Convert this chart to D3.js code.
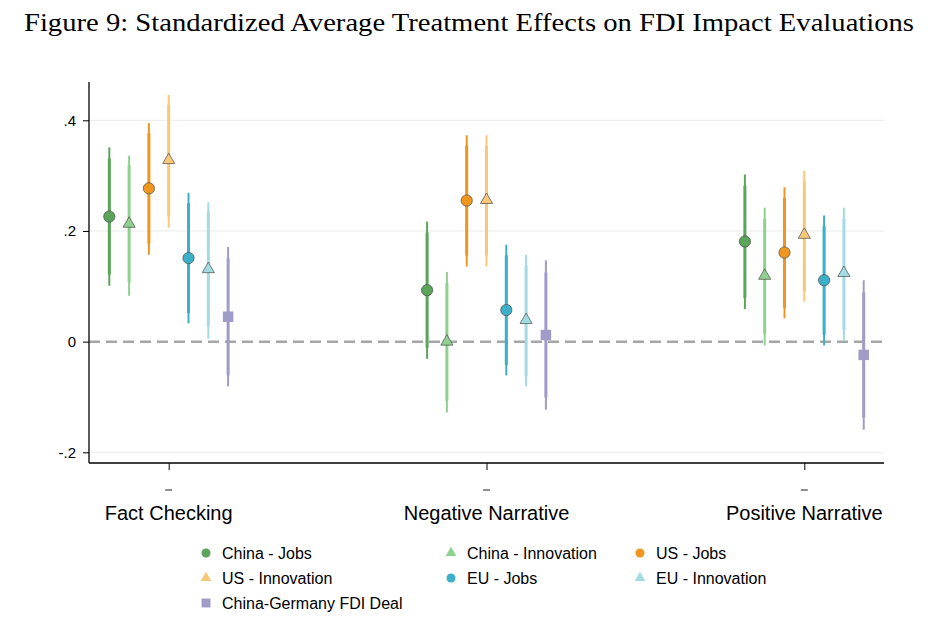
<!DOCTYPE html>
<html>
<head>
<meta charset="utf-8">
<script src="https://cdn.jsdelivr.net/npm/d3@7"></script>
<style>
  body { margin: 0; background: #fff; }
  svg { display: block; }
  text { font-family: "Liberation Sans", Arial, sans-serif; fill: #000; }
</style>
</head>
<body>
<div id="chart"></div>
<script>
const categories = ["Fact Checking", "Negative Narrative", "Positive Narrative"];
const seriesNames = ["China - Jobs", "China - Innovation", "US - Jobs", "US - Innovation",
  "EU - Jobs", "EU - Innovation", "China-Germany FDI Deal"];
const seriesColors = ["#5aa55a", "#8fd18f", "#f0961e", "#f8c878", "#3cb0c8", "#a3dbe3", "#a09cc8"];
const seriesShapes = ["circle", "triangle", "circle", "triangle", "circle", "triangle", "square"];

// estimates per category, one row per category
const estimates = [
  [0.226, 0.213, 0.277, 0.328, 0.151, 0.131, 0.045],
  [0.093, 0.000, 0.255, 0.256, 0.057, 0.039, 0.012],
  [0.181, 0.119, 0.161, 0.193, 0.111, 0.124, -0.024]
];
// 95% intervals
const ci95Low = [
  [0.101, 0.083, 0.157, 0.206, 0.033, 0.005, -0.081],
  [-0.031, -0.128, 0.136, 0.136, -0.061, -0.081, -0.123],
  [0.059, -0.007, 0.042, 0.072, -0.007, 0.002, -0.159]
];
const ci95High = [
  [0.351, 0.336, 0.395, 0.446, 0.269, 0.252, 0.171],
  [0.217, 0.126, 0.373, 0.373, 0.175, 0.157, 0.147],
  [0.302, 0.242, 0.279, 0.309, 0.228, 0.242, 0.111]
];
// 90% intervals
const ci90Low = [
  [0.121, 0.107, 0.177, 0.226, 0.052, 0.027, -0.061],
  [-0.011, -0.107, 0.156, 0.156, -0.042, -0.062, -0.101],
  [0.079, 0.014, 0.061, 0.091, 0.012, 0.021, -0.137]
];
const ci90High = [
  [0.331, 0.319, 0.377, 0.428, 0.250, 0.235, 0.151],
  [0.197, 0.106, 0.354, 0.354, 0.156, 0.138, 0.125],
  [0.282, 0.222, 0.260, 0.290, 0.209, 0.222, 0.089]
];
const yTicks = [-0.2, 0, 0.2, 0.4];
const yTickLabels = ["-.2", "0", ".2", ".4"];

const width = 944, height = 636;
const margin = { left: 89, right: 60, top: 82, bottom: 173 };
const plotRight = width - margin.right;
const plotBottom = height - margin.bottom;

const svg = d3.select("#chart").append("svg")
  .attr("width", width)
  .attr("height", height);

// title
svg.append("text")
  .attr("x", 24)
  .attr("y", 31)
  .attr("textLength", 890)
  .attr("lengthAdjust", "spacingAndGlyphs")
  .style("font-family", "'Liberation Serif', 'DejaVu Serif', serif")
  .style("font-size", "25px")
  .text("Figure 9: Standardized Average Treatment Effects on FDI Impact Evaluations");

const y = d3.scaleLinear()
  .domain([-0.2, 0.4])
  .range([452.3, 120.3]);

const x = d3.scalePoint()
  .domain(categories)
  .range([168.7, 804.3]);

const offset = d3.scalePoint()
  .domain(d3.range(seriesNames.length))
  .range([-59.4, 59.4]);

// gridlines
svg.append("g")
  .selectAll("line")
  .data(yTicks.filter((d) => d !== 0))
  .join("line")
  .attr("x1", margin.left)
  .attr("x2", plotRight)
  .attr("y1", (d) => y(d))
  .attr("y2", (d) => y(d))
  .attr("stroke", "#eaeaea")
  .attr("stroke-width", 1);

// zero reference line
svg.append("line")
  .attr("x1", margin.left)
  .attr("x2", plotRight)
  .attr("y1", y(0))
  .attr("y2", y(0))
  .attr("stroke", "#a6a6a6")
  .attr("stroke-width", 2.5)
  .attr("stroke-dasharray", "11,6");

// y axis
const yAxis = svg.append("g")
  .attr("transform", `translate(${margin.left},0)`)
  .call(d3.axisLeft(y).tickValues(yTicks).tickFormat((d, i) => yTickLabels[i]).tickSize(6).tickPadding(7));
yAxis.select(".domain").attr("d", `M0,${margin.top}V${plotBottom}`).attr("stroke", "#000").attr("stroke-width", 1.3);
yAxis.selectAll(".tick line").attr("stroke", "#000");
yAxis.selectAll(".tick text").style("font-size", "15px").style("font-family", "'Liberation Sans', Arial, sans-serif");

// x axis
const xAxis = svg.append("g")
  .attr("transform", `translate(0,${plotBottom})`)
  .call(d3.axisBottom(x).tickSize(7).tickFormat(""));
xAxis.select(".domain").attr("d", `M${margin.left},0H${plotRight}`).attr("stroke", "#000").attr("stroke-width", 1.3);
xAxis.selectAll(".tick line").attr("stroke", "#000");

// small dashes and category labels
const catG = svg.append("g");
catG.selectAll("line")
  .data(categories)
  .join("line")
  .attr("x1", (d) => x(d) - 3.5)
  .attr("x2", (d) => x(d) + 3.5)
  .attr("y1", 490)
  .attr("y2", 490)
  .attr("stroke", "#222")
  .attr("stroke-width", 1);
catG.selectAll("text")
  .data(categories)
  .join("text")
  .attr("x", (d) => x(d))
  .attr("y", 520)
  .attr("text-anchor", "middle")
  .style("font-size", "20px")
  .text((d) => d);

// flatten points
const points = [];
categories.forEach((c, ci) => {
  seriesNames.forEach((s, si) => {
    points.push({
      cat: c, si,
      est: estimates[ci][si],
      lo95: ci95Low[ci][si], hi95: ci95High[ci][si],
      lo90: ci90Low[ci][si], hi90: ci90High[ci][si]
    });
  });
});

const px = (d) => x(d.cat) + offset(d.si);

const marks = svg.append("g");

marks.selectAll("line.ci95")
  .data(points)
  .join("line")
  .attr("class", "ci95")
  .attr("x1", px).attr("x2", px)
  .attr("y1", (d) => y(d.lo95))
  .attr("y2", (d) => y(d.hi95))
  .attr("stroke", (d) => seriesColors[d.si])
  .attr("stroke-width", 2);

marks.selectAll("line.ci90")
  .data(points)
  .join("line")
  .attr("class", "ci90")
  .attr("x1", px).attr("x2", px)
  .attr("y1", (d) => y(d.lo90))
  .attr("y2", (d) => y(d.hi90))
  .attr("stroke", (d) => seriesColors[d.si])
  .attr("stroke-width", 3);

const symbolFor = {
  circle: d3.symbol().type(d3.symbolCircle).size(100),
  triangle: d3.symbol().type(d3.symbolTriangle).size(64),
  square: d3.symbol().type(d3.symbolSquare).size(110)
};

marks.selectAll("path.marker")
  .data(points)
  .join("path")
  .attr("class", "marker")
  .attr("transform", (d) => `translate(${px(d)},${y(d.est)})`)
  .attr("d", (d) => symbolFor[seriesShapes[d.si]]())
  .attr("fill", (d) => seriesColors[d.si])
  .attr("stroke", (d) => seriesShapes[d.si] === "square" ? "none" : "#4a4a4a")
  .attr("stroke-width", 0.7);

// legend
const legendCols = [206, 451, 640];
const legendRows = [553, 578, 603];
const legendSymbol = {
  circle: d3.symbol().type(d3.symbolCircle).size(64),
  triangle: d3.symbol().type(d3.symbolTriangle).size(50),
  square: d3.symbol().type(d3.symbolSquare).size(80)
};

const legend = svg.append("g")
  .selectAll("g")
  .data(seriesNames)
  .join("g")
  .attr("transform", (d, i) => `translate(${legendCols[i % 3]},${legendRows[Math.floor(i / 3)]})`);

legend.append("path")
  .attr("d", (d, i) => legendSymbol[seriesShapes[i]]())
  .attr("fill", (d, i) => seriesColors[i])
  .attr("stroke", "none");

legend.append("text")
  .attr("x", 16)
  .attr("y", 6)
  .style("font-size", "16px")
  .text((d) => d);
</script>
</body>
</html>
